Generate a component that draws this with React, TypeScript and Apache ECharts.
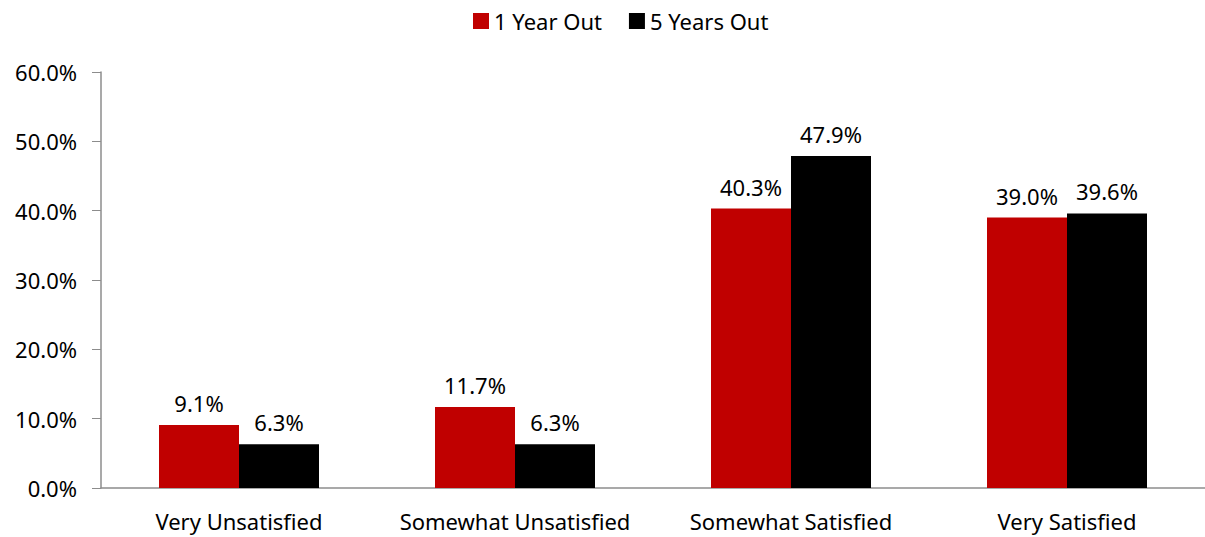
import React, { useEffect, useRef } from "react";
import * as echarts from "echarts";

const categories = ["Very Unsatisfied", "Somewhat Unsatisfied", "Somewhat Satisfied", "Very Satisfied"];
const oneYear = [9.1, 11.7, 40.3, 39.0];
const fiveYears = [6.3, 6.3, 47.9, 39.6];
const seriesNames = ["1 Year Out", "5 Years Out"];

const FONT = "'Noto Sans', sans-serif";
const FS = 22;

export default function App() {
  const ref = useRef<HTMLDivElement>(null);
  useEffect(() => {
    if (!ref.current) return;
    const chart = echarts.init(ref.current, null, { renderer: "svg" });
    const label = {
      show: true,
      position: "top" as const,
      distance: 11,
      color: "#000",
      fontFamily: FONT,
      fontSize: FS,
      formatter: (p: any) => p.value.toFixed(1) + "%",
    };
    chart.setOption({
      animation: false,
      backgroundColor: "#fff",
      textStyle: { fontFamily: FONT },
      legend: {
        top: 5,
        left: 468,
        itemWidth: 16,
        itemHeight: 16,
        itemGap: 27,
        icon: "rect",
        textStyle: { fontFamily: FONT, fontSize: FS, color: "#000" },
        data: seriesNames,
      },
      grid: { left: 101, width: 1116, top: 72, bottom: 49, containLabel: false },
      xAxis: {
        type: "category",
        data: categories,
        axisLine: { lineStyle: { color: "#8c8c8c", width: 1.5 } },
        axisTick: { show: false },
        axisLabel: { color: "#000", fontFamily: FONT, fontSize: FS, margin: 22, interval: 0 },
      },
      yAxis: {
        type: "value",
        min: 0,
        max: 60,
        interval: 10,
        axisLine: { show: true, lineStyle: { color: "#8c8c8c", width: 1.5 } },
        axisTick: { show: true, length: 9, inside: false, lineStyle: { color: "#8c8c8c" } },
        splitLine: { show: false },
        axisLabel: {
          color: "#000",
          fontFamily: FONT,
          fontSize: FS,
          margin: 24,
          formatter: (v: number) => v.toFixed(1) + "%",
        },
      },
      series: [
        {
          name: seriesNames[0],
          type: "bar",
          data: oneYear,
          barWidth: 80,
          barGap: "0%",
          itemStyle: { color: "#C00000" },
          label,
        },
        {
          name: seriesNames[1],
          type: "bar",
          data: fiveYears,
          barWidth: 80,
          itemStyle: { color: "#000000" },
          label,
        },
      ],
    });
    return () => chart.dispose();
  }, []);
  return <div ref={ref} style={{ position: "absolute", left: 0, top: 0, width: 1205, height: 537 }} />;
}
